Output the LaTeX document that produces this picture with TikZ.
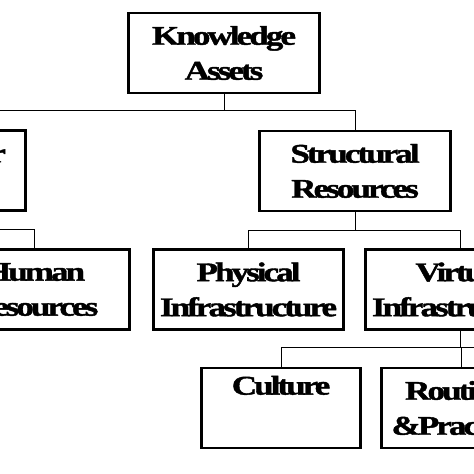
\documentclass[tikz,border=0pt]{standalone}
\usepackage{fontspec}
\newfontfamily\boxfont{Liberation Serif}[FakeStretch=1.3,LetterSpace=-11,BoldFeatures={FakeBold=1.5}]
\begin{document}
\begin{tikzpicture}[x=1pt,y=-1pt,
  box/.style={draw, line width=2.6pt, minimum width=191pt, minimum height=80pt,
    inner sep=0pt, align=center,
    font=\boxfont\bfseries\fontsize{27}{35}\selectfont},
  link/.style={line width=1pt}]
\useasboundingbox (0,0) rectangle (474,474);
\clip (0,0) rectangle (474,474);
\coordinate (redge) at (474,0);
\node[box] (ka) at (224,53) {Knowledge\\Assets};
\node[box] (sh) at (-70,170.5) {Stakeholder\\Resources};
\node[box] (sr) at (355,171) {Structural\\Resources};
\node[box, minimum width=190pt] (hr) at (34.5,289.5) {Human\\Resources};
\node[box, minimum width=190pt] (pi) at (248.5,289.5) {Physical\\Infrastructure};
\node[box, minimum width=190pt] (vi) at (460.5,289.5) {Virtual\\Infrastructure};
\node[box, minimum width=159pt] (cu) at (281,408) {Culture\\\strut};
\node[box, minimum width=159pt] (rp) at (461,408) {Routines\\\&Practices};
\path (ka.south) ++(0,16.5) coordinate (kab);
\draw[link] (ka.south) -- (kab);
\draw[link] (sh.north) |- (kab) -| (sr.north);
\path (sh.south) ++(0,18) coordinate (shb);
\draw[link] (sh.south) -- (shb) -| (hr.north);
\path (sr.south) ++(0,18.5) coordinate (srb);
\draw[link] (sr.south) -- (srb);
\draw[link] (pi.north) |- (srb) -| (vi.north);
\path (vi.south) ++(0,17) coordinate (vib);
\draw[link] (vi.south) -- (vib);
\draw[link] (cu.north) |- (vib) -| (rp.north);
\draw[link] (vib) -- (vib -| redge);
\end{tikzpicture}
\end{document}
